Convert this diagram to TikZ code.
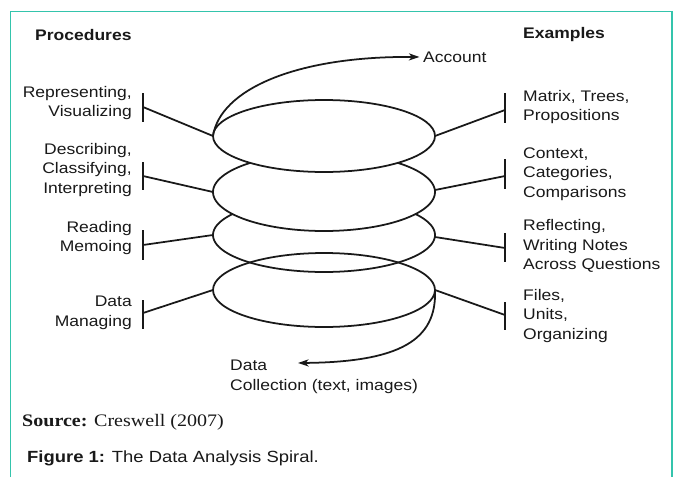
\documentclass[tikz,border=0pt]{standalone}
\usepackage{fontspec}
\setmainfont{Liberation Sans}[FakeStretch=1.14]
\newfontfamily\srcfont{Liberation Serif}[FakeStretch=1.14]
\usetikzlibrary{arrows.meta}
\definecolor{framec}{RGB}{52,196,172}
\definecolor{ink}{RGB}{25,25,25}
\begin{document}
\begin{tikzpicture}[x=0.03cm,y=-0.03cm,
  lbl/.style={inner sep=0pt, font=\fontsize{13.1pt}{16.8pt}\selectfont, text=ink},
  hdr/.style={lbl, font=\fontsize{13.1pt}{16.8pt}\selectfont\bfseries},
  spiral/.style={line width=1.5pt, draw=ink},
  barline/.style={line width=1.6pt, draw=ink},
  arr/.style={spiral, -{Stealth[length=9pt, width=6pt, inset=2.5pt]}}
]
\useasboundingbox (0,0) rectangle (675,477);
\fill[white] (0,0) rectangle (675,477);
% frame
\draw[framec, line width=1.3pt] (10.5,477) -- (10.5,11.5) -- (672,11.5) -- (672,477);

% headers
\node[hdr, anchor=west] (proc) at (35,35) {Procedures};
\node[hdr, anchor=west] (exam) at (523,35) {Examples};

% spiral rings
\draw[spiral] (324,136) ellipse [x radius=111, y radius=36];
\draw[spiral] plot[domain=-48.3:228.3, samples=90, smooth] ({324+111*cos(\x)},{192+39*sin(\x)});
\draw[spiral] plot[domain=-34.5:214.5, samples=90, smooth] ({324+111*cos(\x)},{235+37*sin(\x)});
\draw[spiral] (324,290) ellipse [x radius=111, y radius=37];

% ring attachment points
\coordinate (e1l) at (213,136);
\coordinate (e2l) at (213,192);
\coordinate (e3l) at (213,235);
\coordinate (e4l) at (213,290);
\coordinate (e1r) at (435,136);
\coordinate (e2r) at (435,190);
\coordinate (e3r) at (435,237);
\coordinate (e4r) at (435,290);

% left bars and joints
\coordinate (lj1) at (143,107);
\coordinate (lj2) at (143,176);
\coordinate (lj3) at (143,245);
\coordinate (lj4) at (143,313);
\draw[barline] (143,93) -- (143,122);
\draw[barline] (143,162) -- (143,190);
\draw[barline] (143,230) -- (143,260);
\draw[barline] (143,300) -- (143,329);
\draw[spiral] (lj1) -- (e1l);
\draw[spiral] (lj2) -- (e2l);
\draw[spiral] (lj3) -- (e3l);
\draw[spiral] (lj4) -- (e4l);

% right bars and joints
\coordinate (rj1) at (505,110);
\coordinate (rj2) at (505,176);
\coordinate (rj3) at (505,248);
\coordinate (rj4) at (505,315);
\draw[barline] (505,93) -- (505,123);
\draw[barline] (505,159) -- (505,189);
\draw[barline] (505,233) -- (505,262);
\draw[barline] (505,302) -- (505,330);
\draw[spiral] (e1r) -- (rj1);
\draw[spiral] (e2r) -- (rj2);
\draw[spiral] (e3r) -- (rj3);
\draw[spiral] (e4r) -- (rj4);

% left labels
\node[lbl, anchor=east, align=right] (l1) at (132,103) {Representing,\\Visualizing};
\node[lbl, anchor=east, align=right] (l2) at (132,170) {Describing,\\Classifying,\\Interpreting};
\node[lbl, anchor=east, align=right] (l3) at (132,238) {Reading\\Memoing};
\node[lbl, anchor=east, align=right] (l4) at (132,313) {Data\\Managing};

% right labels
\node[lbl, anchor=west, align=left] (r1) at (523,107) {Matrix, Trees,\\Propositions};
\node[lbl, anchor=west, align=left] (r2) at (523,174) {Context,\\Categories,\\Comparisons};
\node[lbl, anchor=west, align=left] (r3) at (523,246) {Reflecting,\\Writing Notes\\Across Questions};
\node[lbl, anchor=west, align=left] (r4) at (523,316) {Files,\\Units,\\Organizing};

% account and data collection
\node[lbl, anchor=west] (acc) at (423,57) {Account};
\node[lbl, anchor=west, align=left] (dc) at (230,377) {Data\\Collection (text, images)};
\coordinate (dcin) at (298,363);
\draw[arr] (e1l) .. controls (220,90) and (295,56) .. ([xshift=-3pt]acc.west);
\draw[arr] (e4r) .. controls (437,340) and (400,362) .. (dcin);

% source and caption
\node[inner sep=0pt, anchor=west, text=ink, font=\fontsize{15pt}{18pt}\srcfont] (src) at (22,422) {\textbf{Source:} Creswell (2007)};
\node[inner sep=0pt, anchor=west, text=ink, font=\fontsize{13.8pt}{17pt}\selectfont] (cap) at (27,458) {\textbf{Figure 1:} The Data Analysis Spiral.};
\end{tikzpicture}
\end{document}
